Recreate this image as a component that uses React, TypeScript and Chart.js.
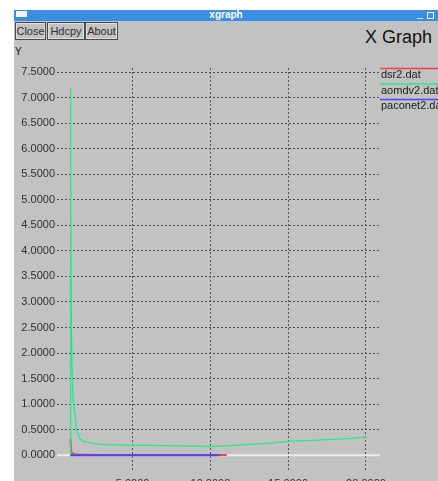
import React, { useEffect, useRef } from "react";
import { Chart, registerables } from "chart.js";

Chart.register(...registerables);

// ---- data ----
const seriesNames = ["dsr2.dat", "aomdv2.dat", "paconet2.dat"];
const seriesColors = ["#f04040", "#28e888", "#4848f0"];

const dsrX = [1.0, 1.06, 1.2, 1.4, 2.0, 3.0, 6.0, 9.0, 11.05];
const dsrY = [0.33, 0.05, 0.025, 0.01, 0.006, 0.004, 0.003, 0.002, 0.002];

const aomdvX = [1.0, 1.01, 1.03, 1.07, 1.12, 1.18, 1.29, 1.4, 1.61, 1.83, 2.0, 2.47, 3.0, 3.97, 5.0, 6.12, 7.0, 8.26, 9.97, 11.0, 12.55, 14.0, 15.0, 16.5, 17.9, 19.0, 20.0];
const aomdvY = [0.0, 7.2, 5.3, 2.3, 1.6, 1.06, 0.8, 0.47, 0.32, 0.27, 0.26, 0.23, 0.21, 0.2, 0.19, 0.19, 0.185, 0.18, 0.17, 0.18, 0.21, 0.24, 0.27, 0.29, 0.31, 0.33, 0.36];

const paconetX = [1.0, 3.0, 6.0, 9.0, 10.57];
const paconetY = [0.0, 0.0, 0.0, 0.0, 0.0];

const xTicks = [5, 10, 15, 20];
const yTicks = [0, 0.5, 1, 1.5, 2, 2.5, 3, 3.5, 4, 4.5, 5, 5.5, 6, 6.5, 7, 7.5];

const toPoints = (xs: number[], ys: number[]) => xs.map((x, i) => ({ x, y: ys[i] }));

const FONT = "'Liberation Sans', Arial, sans-serif";

const zeroLinePlugin = {
  id: "zeroLine",
  beforeDatasetsDraw(chart: any) {
    const { ctx, chartArea, scales } = chart;
    const y = scales.y.getPixelForValue(0);
    ctx.save();
    ctx.strokeStyle = "#ececec";
    ctx.lineWidth = 2;
    ctx.beginPath();
    ctx.moveTo(chartArea.left, y);
    ctx.lineTo(chartArea.right, y);
    ctx.stroke();
    ctx.restore();
  },
};

const legendPlugin = {
  id: "xgLegend",
  afterDraw(chart: any) {
    const { ctx, chartArea, width } = chart;
    ctx.save();
    chart.data.datasets.forEach((ds: any, i: number) => {
      const y0 = chartArea.top + 0.5 + i * 15.5;
      ctx.strokeStyle = ds.borderColor;
      ctx.lineWidth = 1.5;
      ctx.beginPath();
      ctx.moveTo(chartArea.right, y0);
      ctx.lineTo(width, y0);
      ctx.stroke();
      ctx.fillStyle = "#202020";
      ctx.font = `11px ${FONT}`;
      ctx.textBaseline = "middle";
      ctx.textAlign = "left";
      ctx.fillText(ds.label, chartArea.right + 1, y0 + 6.5);
    });
    ctx.restore();
  },
};

function ChartCanvas() {
  const ref = useRef<HTMLCanvasElement | null>(null);
  useEffect(() => {
    if (!ref.current) return;
    const chart = new Chart(ref.current, {
      type: "line",
      data: {
        datasets: [
          { label: seriesNames[0], data: toPoints(dsrX, dsrY), borderColor: seriesColors[0], borderWidth: 2, pointRadius: 0, order: 3 },
          { label: seriesNames[1], data: toPoints(aomdvX, aomdvY), borderColor: seriesColors[1], borderWidth: 1.3, pointRadius: 0, order: 2 },
          { label: seriesNames[2], data: toPoints(paconetX, paconetY), borderColor: seriesColors[2], borderWidth: 2, pointRadius: 0, order: 1 },
        ],
      },
      options: {
        animation: false,
        responsive: false,
        devicePixelRatio: 1,
        layout: { padding: { left: 0, top: 68, right: 58, bottom: 0 } },
        plugins: { legend: { display: false }, tooltip: { enabled: false } },
        elements: { line: { tension: 0 } },
        scales: {
          x: {
            type: "linear",
            min: 0.14,
            max: 20.9,
            afterBuildTicks: (s: any) => { s.ticks = xTicks.map((v) => ({ value: v })); },
            afterFit: (s: any) => { s.height = 10; },
            ticks: { callback: (v: any) => Number(v).toFixed(4), color: "#303030", font: { family: FONT, size: 11 }, padding: 6, maxRotation: 0, autoSkip: false },
            grid: { color: "#505050", drawTicks: false, lineWidth: 1 },
            border: { display: false, dash: [2, 2] },
          },
          y: {
            type: "linear",
            min: -0.31,
            max: 7.58,
            afterBuildTicks: (s: any) => { s.ticks = yTicks.map((v) => ({ value: v })); },
            afterFit: (s: any) => { s.width = 57; },
            ticks: { callback: (v: any) => Number(v).toFixed(4), color: "#303030", font: { family: FONT, size: 11 }, padding: 2, autoSkip: false },
            grid: { color: "#505050", drawTicks: false, lineWidth: 1 },
            border: { display: false, dash: [2, 2] },
          },
        },
      },
      plugins: [zeroLinePlugin, legendPlugin],
    } as any);
    return () => chart.destroy();
  }, []);
  return <canvas ref={ref} width={438} height={481} style={{ position: "absolute", left: 0, top: 0, width: 438, height: 481 }} />;
}

const btn = (left: number, width: number, text: string) => (
  <div
    style={{
      position: "absolute", left, top: 22, width: width - 2, height: 16,
      border: "1px solid #4a4a4a", boxShadow: "inset 0 0 0 1px #dedede",
      font: `11px ${FONT}`, color: "#303030", lineHeight: "16px", textAlign: "center",
    }}
  >{text}</div>
);

export default function App() {
  return (
    <div style={{ position: "fixed", left: 0, top: 0, width: 438, height: 481, background: "#ffffff", overflow: "hidden" }}>
      <div style={{ position: "absolute", left: 14, top: 10, right: 0, bottom: 0, background: "#c2c2c2" }} />
      <div style={{ position: "absolute", left: 14, top: 10, right: 0, height: 11, background: "#3a8ee6" }}>
        <div style={{ position: "absolute", left: 2, top: 1, width: 11, height: 6, background: "#f4f4f4" }} />
        <div style={{ position: "absolute", left: 0, right: 0, top: -1, textAlign: "center", color: "#fff", font: `bold 10px ${FONT}` }}>xgraph</div>
        <div style={{ position: "absolute", left: 403, top: -2, color: "#fff", font: `10px ${FONT}` }}>_</div>
        <div style={{ position: "absolute", left: 413, top: 2, width: 5, height: 5, border: "1px solid #fff" }} />
      </div>
      {btn(15, 31, "Close")}
      {btn(47, 38, "Hdcpy")}
      {btn(85, 33, "About")}
      <div style={{ position: "absolute", left: 15, top: 46, font: `10px ${FONT}`, color: "#202020" }}>Y</div>
      <div style={{ position: "absolute", left: 365, top: 27, font: `18px ${FONT}`, color: "#111" }}>X Graph</div>
      <ChartCanvas />
    </div>
  );
}
